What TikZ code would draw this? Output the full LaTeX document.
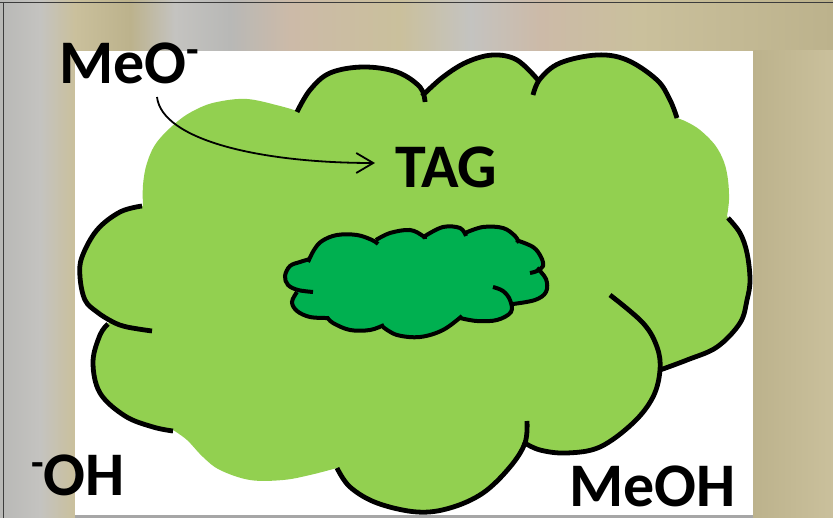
\documentclass[tikz,border=0pt]{standalone}
\usepackage{fontspec}
\setmainfont{Carlito}
\usetikzlibrary{arrows.meta,calc}

\definecolor{leaf}{RGB}{146,208,80}
\definecolor{moss}{RGB}{0,176,80}
\definecolor{khaki}{RGB}{188,178,140}
\definecolor{khakilight}{RGB}{202,192,156}
\definecolor{greywall}{RGB}{184,184,182}
\definecolor{greylight}{RGB}{196,195,192}
\definecolor{rosy}{RGB}{204,186,168}
\definecolor{framegrey}{RGB}{60,60,60}

% outlined lobes of the large cloud
\def\lobeA{plot[smooth,tension=0.6] coordinates {(297,112) (310,90) (330,73) (363,67) (397,72) (420,87) (425,102)}}
\def\lobeB{plot[smooth,tension=0.6] coordinates {(422,96) (443,77) (467,62) (493,55) (517,60) (538,80)}}
\def\lobeC{plot[smooth,tension=0.6] coordinates {(533,95) (540,79) (560,63) (597,55) (627,60) (657,80) (670,100) (677,118)}}
\def\lobeR{plot[smooth,tension=0.6] coordinates {(728,218) (740,233) (747,253) (750,280) (747,300) (740,323) (717,347) (687,360) (660,370)}}
\def\lobeD{plot[smooth,tension=0.6] coordinates {(610,295) (643,323) (657,347) (660,370) (653,397) (633,423) (600,447) (567,453) (540,450) (523,442)}}
\def\lobeBot{plot[smooth,tension=0.6] coordinates {(527,421) (525,443) (510,467) (483,493) (450,508) (417,512) (377,503) (350,487) (337,468)}}
\def\lobeLB{plot[smooth,tension=0.6] coordinates {(108,324) (100,335) (93,362) (100,393) (125,416) (153,427) (173,431)}}
\def\lobeL{plot[smooth,tension=0.6] coordinates {(142,206) (120,212) (97,230) (82,257) (80,277) (85,300) (97,312) (113,322) (127,327) (152,331)}}

% lobes of the small dark cloud
\def\nubA{plot[smooth,tension=0.6] coordinates {(310,259) (300,262) (290,266) (285,276) (288,285) (298,290) (313,292)}}
\def\nubB{plot[smooth,tension=0.6] coordinates {(308,262) (314,250) (322,241) (337,235) (357,235) (372,240) (378,244)}}
\def\nubC{plot[smooth,tension=0.6] coordinates {(376,240) (390,233) (410,230) (423,236) (425,239)}}
\def\nubD{plot[smooth,tension=0.6] coordinates {(425,236) (443,227) (460,228) (466,236)}}
\def\nubE{plot[smooth,tension=0.6] coordinates {(465,233) (483,227) (503,228) (515,236) (519,243)}}
\def\nubF{plot[smooth,tension=0.6] coordinates {(516,240) (533,247) (541,257) (543,266) (537,271) (530,273)}}
\def\nubG{plot[smooth,tension=0.6] coordinates {(537,268) (546,279) (546,292) (535,300) (513,304)}}
\def\nubH{plot[smooth,tension=0.6] coordinates {(493,287) (503,291) (510,300) (511,312) (497,320) (477,321) (460,318)}}
\def\nubI{plot[smooth,tension=0.6] coordinates {(462,316) (443,330) (420,337) (397,335) (383,327)}}
\def\nubJ{plot[smooth,tension=0.6] coordinates {(384,325) (370,330) (350,330) (333,323) (327,317)}}
\def\nubK{plot[smooth,tension=0.6] coordinates {(328,318) (310,317) (297,311) (292,302) (297,292)}}

\begin{document}
\begin{tikzpicture}[x=1pt,y=-1pt,
  label/.style={inner sep=0pt,anchor=base west,font=\fontsize{62}{62}\selectfont\bfseries},
  outline/.style={line width=4.8pt,black},
  nubline/.style={line width=4pt,black},
  reaction/.style={line width=1.8pt,-{Straight Barb[length=17pt,width=20pt]}}]
\useasboundingbox (0,0) rectangle (833,518);

% blurred photographic backdrop: soft colour bands along the top and the sides
\fill[khaki] (0,0) rectangle (833,518);
\foreach \xa/\xb/\ca/\cb in {0/40/greywall/greylight, 40/75/greylight/khakilight}
  \shade[left color=\ca,right color=\cb] (\xa,0) rectangle (\xb,518);
\foreach \xa/\xb/\ca/\cb in {75/130/khakilight/khaki, 130/175/khaki/greylight,
    175/230/greylight/greywall, 230/290/greywall/rosy, 290/400/rosy/khakilight,
    400/470/khakilight/greylight, 470/540/greylight/rosy, 540/640/rosy/khakilight,
    640/833/khakilight/khaki}
  \shade[left color=\ca,right color=\cb] (\xa,0) rectangle (\xb,51);
\shade[left color=khaki,right color=khakilight] (753,51) rectangle (833,518);
\fill[black!35] (75,515) rectangle (753,518);
\draw[framegrey,line width=1.3pt] (0,2.5) -- (833,2.5);
\draw[framegrey,line width=1.3pt] (3.5,2.5) -- (3.5,518);

% white panel
\fill[white] (75,51) rectangle (753,515);

% large cloud: fill, then the outlined lobes
\fill[leaf]
  plot[smooth,tension=0.6] coordinates {(143,207) (143,185) (147,163) (157,142) (178,121) (197,109) (217,102) (247,99) (280,106) (297,111)}
  -- plot[smooth,tension=0.6] coordinates {(297,112) (310,90) (330,73) (363,67) (397,72) (420,87) (425,102)}
  -- plot[smooth,tension=0.6] coordinates {(422,96) (443,77) (467,62) (493,55) (517,60) (538,80)}
  -- plot[smooth,tension=0.6] coordinates {(538,80) (560,63) (597,55) (627,60) (657,80) (670,100) (677,118)}
  -- plot[smooth,tension=0.6] coordinates {(677,118) (687,122) (700,130) (715,145) (724,162) (728,180) (729,200) (727,216)}
  -- plot[smooth,tension=0.6] coordinates {(728,218) (740,233) (747,253) (750,280) (747,300) (740,323) (717,347) (687,360) (660,370)}
  -- plot[smooth,tension=0.6] coordinates {(660,370) (653,397) (633,423) (600,447) (567,453) (540,450) (525,443)}
  -- plot[smooth,tension=0.6] coordinates {(525,443) (510,467) (483,493) (450,508) (417,512) (377,503) (350,487) (337,468)}
  -- plot[smooth,tension=0.6] coordinates {(337,468) (310,475) (283,480) (250,480) (220,470) (203,457) (187,440) (173,430)}
  -- plot[smooth,tension=0.6] coordinates {(173,430) (153,427) (127,417) (104,396) (93,362) (99,335) (110,322)}
  -- plot[smooth,tension=0.6] coordinates {(110,322) (97,312) (85,300) (80,277) (82,257) (97,230) (120,212) (142,206)}
  -- cycle;
\foreach \n in {\lobeA,\lobeB,\lobeC,\lobeR,\lobeD,\lobeBot,\lobeLB,\lobeL}
  \draw[outline] \n;

% small dark cloud
\fill[moss]
  plot[smooth,tension=0.6] coordinates {(297,291) (288,285) (285,276) (290,266) (300,262) (310,259)}
  -- plot[smooth,tension=0.6] coordinates {(308,262) (314,250) (322,241) (337,235) (357,235) (372,240) (378,244)}
  -- plot[smooth,tension=0.6] coordinates {(376,240) (390,233) (410,230) (423,236) (425,239)}
  -- plot[smooth,tension=0.6] coordinates {(425,236) (443,227) (460,228) (466,236)}
  -- plot[smooth,tension=0.6] coordinates {(465,233) (483,227) (503,228) (515,236) (519,243)}
  -- plot[smooth,tension=0.6] coordinates {(516,240) (533,247) (541,257) (543,267) (538,272)}
  -- plot[smooth,tension=0.6] coordinates {(537,268) (546,279) (546,292) (535,300) (513,304)}
  -- plot[smooth,tension=0.6] coordinates {(511,303) (511,312) (497,320) (477,321) (460,318)}
  -- plot[smooth,tension=0.6] coordinates {(462,316) (443,330) (420,337) (397,335) (383,327)}
  -- plot[smooth,tension=0.6] coordinates {(384,325) (370,330) (350,330) (333,323) (327,317)}
  -- plot[smooth,tension=0.6] coordinates {(328,318) (310,317) (297,311) (292,302) (297,292)}
  -- cycle;
\foreach \n in {\nubA,\nubB,\nubC,\nubD,\nubE,\nubF,\nubG,\nubH,\nubI,\nubJ,\nubK}
  \draw[nubline] \n;

% labels
\node[label] (meo) at (59,84) {MeO\raisebox{20pt}{\fontsize{41}{41}\selectfont -}};
\node[label] (tag) at (395,188) {TAG};
\node[label] (oh) at (31,496) {\raisebox{20pt}{\fontsize{41}{41}\selectfont -}OH};
\node[label] (meoh) at (569,506) {MeOH};

% attack of methoxide on the triglyceride
\draw[reaction] ($(meo.base west)+(98,13)$) .. controls +(5,43) and +(-115,0) .. ($(tag.base west)+(-20,-25)$);
\end{tikzpicture}
\end{document}
